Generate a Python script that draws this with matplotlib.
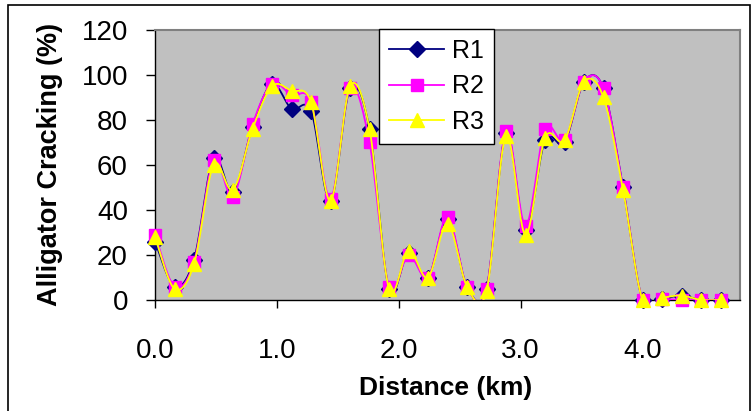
import numpy as np
import matplotlib
matplotlib.use("Agg")
import matplotlib.pyplot as plt
from matplotlib.patches import Rectangle

# distance along the section (km)
distance = [0.00, 0.16, 0.32, 0.48, 0.64, 0.80, 0.96, 1.12, 1.28, 1.44,
            1.60, 1.76, 1.92, 2.08, 2.24, 2.40, 2.56, 2.72, 2.88, 3.04,
            3.20, 3.36, 3.52, 3.68, 3.84, 4.00, 4.16, 4.32, 4.48, 4.64]

# alligator cracking (%) for the three runs
r1 = [26, 6, 18, 63, 48, 77, 96, 85, 84, 44,
      94, 76, 5, 21, 10, 36, 6, 5, 74, 31,
      71, 70, 97, 94, 50, 0, 0.5, 2, 0, 0]
r2 = [29, 6, 17, 62, 46, 78, 96, 91, 88, 45,
      94, 70, 6, 20, 10, 37, 6, 5, 75, 33,
      76, 71, 97, 94, 50, 0, 0.5, 0, 0, 0]
r3 = [28, 5, 16, 60, 49, 76, 95, 93, 88, 44,
      95, 76, 5, 22, 10, 34, 6, 4, 73, 29,
      72, 71, 97, 90, 49, 0, 1, 2, 0, 0]

x_ticks = [0, 1, 2, 3, 4]
y_ticks = [0, 20, 40, 60, 80, 100, 120]


def smooth(x, y, n=16):
    """Catmull-Rom curve through the points, like Excel's smoothed line"""
    x = np.asarray(x, float)
    y = np.asarray(y, float)
    px = np.concatenate([[x[0]], x, [x[-1]]])
    py = np.concatenate([[y[0]], y, [y[-1]]])
    xs, ys = [], []
    t = np.linspace(0, 1, n, endpoint=False)
    for i in range(1, len(px) - 2):
        for p, out in ((px, xs), (py, ys)):
            p0, p1, p2, p3 = p[i - 1], p[i], p[i + 1], p[i + 2]
            c1 = p1 + (p2 - p0) / 6
            c2 = p2 - (p3 - p1) / 6
            out.extend((1 - t) ** 3 * p1 + 3 * (1 - t) ** 2 * t * c1
                       + 3 * (1 - t) * t ** 2 * c2 + t ** 3 * p2)
    xs.append(x[-1])
    ys.append(y[-1])
    return xs, ys


plt.rcParams["font.family"] = ["Liberation Sans", "DejaVu Sans"]

fig = plt.figure(figsize=(7.54, 4.11), dpi=100)
ax = fig.add_axes([155 / 754, 1 - 300 / 411, 585 / 754, 270 / 411])
ax.set_facecolor("#C0C0C0")

series = [
    ("R1", r1, "#000080", "D", 8),
    ("R2", r2, "#FF00FF", "s", 8),
    ("R3", r3, "#FFFF00", "^", 10),
]
for i, (name, vals, color, marker, ms) in enumerate(series):
    sx, sy = smooth(distance, vals)
    ax.plot(sx, sy, color=color, lw=1.3, zorder=3 + i)
    ax.plot(distance, vals, linestyle="none", marker=marker, ms=ms,
            color=color, mec=color, clip_on=False, zorder=3 + i)
    # proxy for legend
    ax.plot([], [], color=color, lw=1.3, marker=marker, ms=ms,
            mec=color, label=name)

ax.set_xlim(0, 4.8)
ax.set_ylim(0, 120)
ax.set_xticks(x_ticks)
ax.set_xticklabels([f"{v:.1f}" for v in x_ticks])
ax.set_yticks(y_ticks)
ax.tick_params(axis="y", direction="out", length=6.5, width=1,
               labelsize=20, pad=13)
ax.tick_params(axis="x", direction="out", length=6, width=1,
               labelsize=20, pad=21)

for side in ["top", "right"]:
    ax.spines[side].set_color("#808080")
    ax.spines[side].set_linewidth(1.5)
for side in ["left", "bottom"]:
    ax.spines[side].set_color("black")
    ax.spines[side].set_linewidth(1)

leg = ax.legend(loc="upper left", bbox_to_anchor=(0.383, 1.003),
                borderaxespad=0, fontsize=18, handlelength=2.2,
                handletextpad=0.3, labelspacing=0.45, borderpad=0.4,
                fancybox=False, framealpha=1, edgecolor="black")
leg.get_frame().set_linewidth(1)
leg.set_zorder(10)

fig.text(50 / 754, 1 - 164 / 411, "Alligator Cracking (%)", rotation=90,
         ha="center", va="center", fontsize=19.5, fontweight="bold")
fig.text(446 / 754, 1 - 388 / 411, "Distance (km)", ha="center",
         va="center", fontsize=19, fontweight="bold")

# outer chart border
fig.patches.append(Rectangle((8 / 754, -0.02), 742 / 754, 1 - 5 / 411 + 0.02,
                             transform=fig.transFigure, fill=False,
                             edgecolor="black", lw=1.2))

fig.savefig("out.png", dpi=100)
